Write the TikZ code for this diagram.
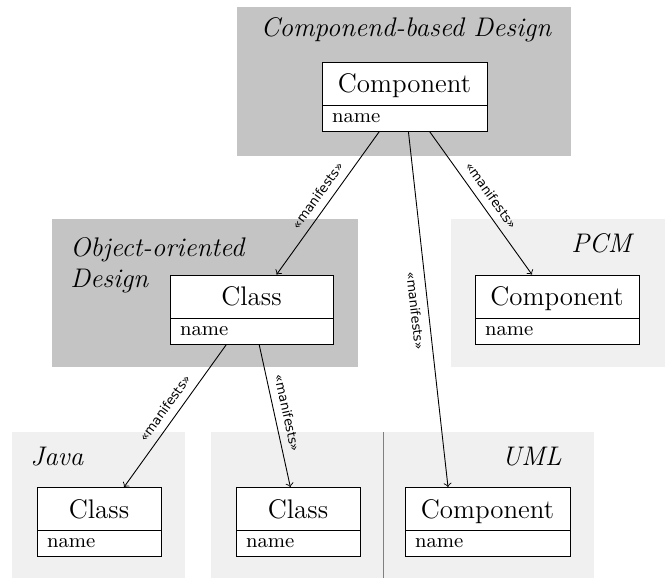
\documentclass[tikz,border=0pt]{standalone}
\usepackage{fontspec}
\newfontfamily\stereofont{DejaVu Sans}
\usetikzlibrary{positioning,fit}

\definecolor{pkgdark}{RGB}{196,196,196}
\definecolor{pkglight}{RGB}{240,240,240}

% one drawing unit
\newcommand{\unitlen}{0.446pt}

\tikzset{
  pkgtitle/.style={font=\large\itshape, inner sep=0pt},
  classhead/.style={draw, fill=white, font=\large, inner sep=0pt, outer sep=0pt,
    minimum height=43*\unitlen, text height=8.2pt, text depth=0pt},
  classattr/.style={draw, fill=white, font=\small, inner ysep=0pt, inner xsep=10*\unitlen,
    outer sep=0pt, minimum height=26*\unitlen, text height=3.9pt, text depth=0pt, align=left},
  manifests/.style={font=\stereofont\fontsize{5.7}{7}\selectfont, sloped},
}

\begin{document}
\begin{tikzpicture}[x=\unitlen, y=-\unitlen]
  \useasboundingbox (0,0) rectangle (665,578);

  % packages
  \fill[pkgdark] (237,7) rectangle (571,156);
  \fill[pkgdark] (52,219) rectangle (358,367);
  \fill[pkglight] (451,219) rectangle (665,367);
  \fill[pkglight] (12,432) rectangle (185,578);
  \fill[pkglight] (211,432) rectangle (594,578);
  \draw[gray] (383,432) -- (383,578);

  \node[pkgtitle, anchor=base] (cbdtitle) at (406,37) {Componend-based Design};
  \node[pkgtitle, anchor=north west, align=left] (oodtitle) at (70,237) {Object-oriented\\Design};
  \node[pkgtitle, anchor=base east] (pcmtitle) at (632,253) {PCM};
  \node[pkgtitle, anchor=base west] (javatitle) at (30,466) {Java};
  \node[pkgtitle, anchor=base east] (umltitle) at (562,466) {UML};

  % classes: head, attribute part, whole box
  \foreach \n/\x/\y/\t/\w in {cbd/404.5/83.5/Component/165, ood/251.5/296.5/Class/163,
      pcm/557/296.5/Component/164, java/99/509/Class/124,
      umlcls/298/509/Class/124, umlcmp/487.5/509/Component/165} {
    \node[classhead, minimum width=\w*\unitlen] (\n-head) at (\x,\y) {\t};
    \node[classattr, text width=(\w-20)*\unitlen, below=0pt of \n-head] (\n-attr) {name};
    \node[fit=(\n-head)(\n-attr), inner sep=0pt] (\n) {};
  }

  % manifestations
  \draw[->] (cbd) -- node[manifests, above] {«manifests»} (ood);
  \draw[->] (cbd) -- node[manifests, above] {«manifests»} (pcm);
  \draw[->] (cbd) -- node[manifests, below] {«manifests»} ([xshift=-39.5*\unitlen]umlcmp.north);
  \draw[->] (ood) -- node[manifests, above] {«manifests»} (java);
  \draw[->] (ood) -- node[manifests, above] {«manifests»} (umlcls);
\end{tikzpicture}
\end{document}
